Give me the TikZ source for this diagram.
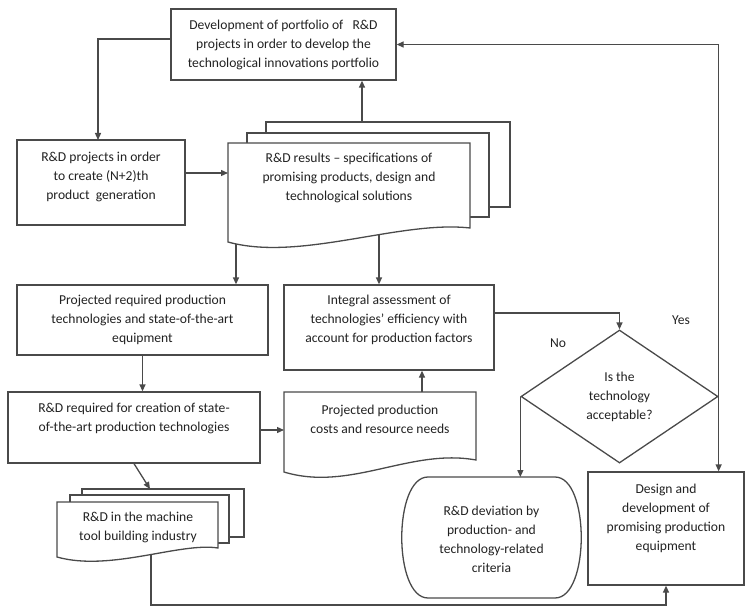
\documentclass[tikz,border=0pt]{standalone}
\usepackage{fontspec}
\setmainfont{Carlito}
\usetikzlibrary{arrows.meta,shapes.geometric}
\definecolor{lncol}{HTML}{4A4A4A}
\definecolor{txcol}{HTML}{222222}
\begin{document}
\begin{tikzpicture}[x=1pt,y=-1pt,
  font=\fontsize{13.6}{19}\selectfont, text=txcol,
  box/.style={draw=lncol, line width=1.3pt, fill=white, align=center, inner sep=0pt},
  shp/.style={draw=lncol, line width=1.3pt, fill=white},
  txt/.style={align=center, inner sep=0pt},
  arr/.style={draw=lncol, line width=1.3pt, -{Triangle[length=7pt,width=6pt]}},
  plain/.style={draw=lncol, line width=1.3pt}]
\useasboundingbox (0,0) rectangle (745,607);

% ---------- rectangular boxes ----------
\node[box, minimum width=225pt, minimum height=71pt] (top) at (283.5,44.5)
  {Development of portfolio of \ \ R\&D\\projects in order to develop the\\technological innovations portfolio};
\node[box, minimum width=168pt, minimum height=85pt, text depth=14pt] (rdp) at (101,182.5)
  {R\&D projects in order\\to create (N+2)th\\product\ \ generation};
\node[box, minimum width=251pt, minimum height=70pt] (projreq) at (142.5,320)
  {Projected required production\\technologies and state-of-the-art\\equipment};
\node[box, minimum width=210pt, minimum height=85pt, text depth=18pt] (integral) at (389,327.5)
  {Integral assessment of\\technologies’ efficiency with\\account for production factors};
\node[box, minimum width=252pt, minimum height=71pt, text depth=20pt] (rdreq) at (134,427.5)
  {R\&D required for creation of state-\\of-the-art production technologies};
\node[box, minimum width=156pt, minimum height=113pt, text depth=22pt] (design) at (666,528.5)
  {Design and\\development of\\promising production\\equipment};
\node[box, diamond, minimum width=197pt, minimum height=133pt] (dia) at (619.5,396.5)
  {Is the\\technology\\acceptable?};

% ---------- arrows starting inside document shapes (covered later) ----------
\coordinate (rs1) at (236,232);
\coordinate (rs2) at (379,225);
\coordinate (ms) at (151,545);
\draw[arr] (rs1) -- (rs1 |- projreq.north);
\draw[arr] (rs2) -- (rs2 |- integral.north);
\draw[arr] (ms) -- (151,605) -| (design.south);

% ---------- R&D results stack ----------
\draw[shp] (266,122) rectangle (510,207);
\draw[shp] (247,133) rectangle (489,217);
\draw[shp] (228,143) -- (470,143) -- (470,228)
  .. controls (400,220) and (300,262) .. (228,242) -- cycle;
\node[txt] (res) at (349,178)
  {R\&D results -- specifications of\\promising products, design and\\technological solutions};

% ---------- projected production costs document ----------
\draw[shp] (284,392) -- (476,392) -- (476,460)
  .. controls (410,448) and (350,492) .. (284,472) -- cycle;
\node[txt] (pp) at (380,419) {Projected production\\costs and resource needs};

% ---------- machine tool stack ----------
\draw[shp] (82,489) rectangle (244,537);
\draw[shp] (70,495) rectangle (229,543);
\draw[shp] (57,502) -- (218,502) -- (218,548)
  .. controls (180,542) and (110,572) .. (57,557) -- cycle;
\node[txt] (mach) at (138,527) {R\&D in the machine\\tool building industry};

% ---------- deviation terminal ----------
\draw[shp] (428,477) -- (555,477) .. controls (590,477) and (590,598) .. (555,598)
  -- (428,598) .. controls (393,598) and (393,477) .. (428,477) -- cycle;
\node[txt] (dev) at (491.5,539)
  {R\&D deviation by\\production- and\\technology-related\\criteria};

% ---------- remaining connectors ----------
\coordinate (tl) at (171,39);
\draw[arr] (tl) -| (98,140);
\coordinate (ra) at (185,173);
\coordinate (rb) at (228,173);
\draw[arr] (ra) -- (rb);
\coordinate (rt) at (362,122);
\draw[arr] (rt) -- (rt |- top.south);
\coordinate (ie) at (494,313);
\draw[arr] (ie) -| (dia.north);
\draw[arr] (dia.west) -- (dia.west |- 0,477);
\draw[arr] (dia.east) |- (top.east);
\draw[arr] (dia.east) -- (dia.east |- design.north);
\draw[arr] (projreq.south) -- (projreq.south |- rdreq.north);
\coordinate (ppl) at (284,430);
\draw[arr] (rdreq.east |- ppl) -- (ppl);
\coordinate (ppt) at (422,392);
\draw[arr] (ppt) -- (ppt |- integral.south);
\coordinate (mt) at (150,489);
\draw[arr] (rdreq.south) -- (mt);

% ---------- labels ----------
\node[txt] (no) at (558,343) {No};
\node[txt] (yes) at (681,320) {Yes};
\end{tikzpicture}
\end{document}
